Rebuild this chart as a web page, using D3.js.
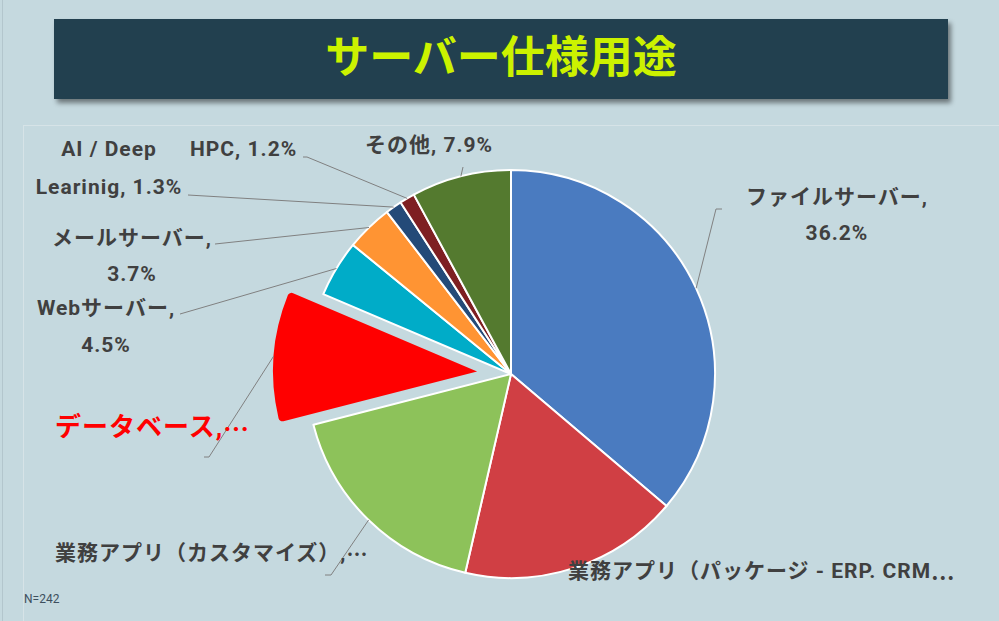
<!DOCTYPE html>
<html><head><meta charset="utf-8">
<script src="https://cdn.jsdelivr.net/npm/d3@7"></script>
<style>
html,body{margin:0;padding:0;background:#c5d9df;}
svg{display:block;}
</style></head>
<body>
<svg id="chart" width="999" height="621"></svg>
<script>
const title = "サーバー仕様用途";
const categories = ["ファイルサーバー","業務アプリ（パッケージ - ERP. CRM…","業務アプリ（カスタマイズ）","データベース","Webサーバー","メールサーバー","AI / Deep Learinig","HPC","その他"];
const values = [36.2, 17.4, 17.4, 10.4, 4.5, 3.7, 1.3, 1.2, 7.9];
const colors = ["#4a7bc0","#d03f44","#8dc25a","#ff0000","#00acc8","#ff9433","#244a78","#7e1f22","#547a2f"];
const labelLines = [
  [categories[0] + ",", values[0] + "%"],
  [categories[1]],
  [categories[2] + ",…"],
  [categories[3] + ",…"],
  [categories[4] + ",", values[4] + "%"],
  [categories[5] + ",", values[5] + "%"],
  ["AI / Deep", "Learinig, " + values[6] + "%"],
  [categories[7] + ", " + values[7] + "%"],
  [categories[8] + ", " + values[8] + "%"]
];
const note = "N=242";
const explodedIndex = 3;

// layout (positions only)
const labelPos = [
  {x:837, y:197, anchor:"middle", lh:36, lead:[722,209], stub:-6},
  {x:568, y:571, anchor:"start", lh:36, lead:null},
  {x:55,  y:553, anchor:"start", lh:36, lead:[325,575], stub:6},
  {x:55,  y:427, anchor:"start", lh:36, lead:[204,457], stub:5, big:true},
  {x:106, y:308, anchor:"middle", lh:37, lead:[180,314], stub:0},
  {x:132, y:238, anchor:"middle", lh:36, lead:[215,244], stub:0},
  {x:109, y:149, anchor:"middle", lh:38, lead:[188,195], stub:0},
  {x:190, y:149, anchor:"start", lh:36, lead:[303,157], stub:4},
  {x:365, y:145, anchor:"start", lh:36, lead:[463,167], stub:0}
];

const svg = d3.select("#chart");
const W = 999, H = 621;

// page frame & plot area
svg.append("rect").attr("x",0).attr("y",0).attr("width",W).attr("height",H).attr("fill","#c5d9df");
svg.append("line").attr("x1",2.5).attr("x2",2.5).attr("y1",0).attr("y2",H).attr("stroke","#b3c6cd").attr("stroke-width",1);
svg.append("rect").attr("x",23.5).attr("y",125.5).attr("width",990).attr("height",520)
  .attr("fill","none").attr("stroke","#d6e3e7").attr("stroke-width",1);

// title banner
const defs = svg.append("defs");
const f = defs.append("filter").attr("id","shadow").attr("x","-5%").attr("y","-20%").attr("width","110%").attr("height","150%");
f.append("feDropShadow").attr("dx",3).attr("dy",4).attr("stdDeviation",2.5).attr("flood-color","#000").attr("flood-opacity",0.45);
svg.append("rect").attr("x",54).attr("y",19).attr("width",894).attr("height",80)
  .attr("fill","#243f4f").attr("filter","url(#shadow)");
svg.append("text").attr("x",501).attr("y",54).attr("text-anchor","middle").attr("dominant-baseline","central")
  .attr("font-family","'Noto Sans CJK JP', sans-serif").attr("font-weight",700).attr("font-size",44)
  .attr("fill","#ccf200").text(title);

// pie
const cx = 511, cy = 374, R = 204, explode = 34;
const pie = d3.pie().sort(null).value(d => d).startAngle(0).endAngle(2*Math.PI);
const arcs = pie(values);
const arc = d3.arc().innerRadius(0).outerRadius(R);
const arcRounded = d3.arc().innerRadius(0).outerRadius(R).cornerRadius(4);
const g = svg.append("g").attr("transform",`translate(${cx},${cy})`);

function offsetOf(d, i){
  if(i !== explodedIndex) return [0,0];
  const a = (d.startAngle + d.endAngle)/2;
  return [explode*Math.sin(a), -explode*Math.cos(a)];
}

g.selectAll("path.slice").data(arcs).join("path")
  .attr("class","slice")
  .attr("d",(d,i)=> i===explodedIndex ? arcRounded(d) : arc(d))
  .attr("transform",(d,i)=>{const o=offsetOf(d,i);return `translate(${o[0]},${o[1]})`;})
  .attr("fill",(d,i)=>colors[i])
  .attr("stroke",(d,i)=> i===explodedIndex ? "none" : "#ffffff")
  .attr("stroke-width",2)
  .attr("stroke-linejoin","round");

// leader lines
arcs.forEach((d,i)=>{
  const p = labelPos[i];
  if(!p.lead) return;
  const a = (d.startAngle + d.endAngle)/2;
  const o = offsetOf(d,i);
  const ex = cx + o[0] + R*Math.sin(a), ey = cy + o[1] - R*Math.cos(a);
  const pts = [[p.lead[0], p.lead[1]]];
  if(p.stub) pts.push([p.lead[0]+p.stub, p.lead[1]]);
  pts.push([ex, ey]);
  svg.append("path").attr("d", d3.line()(pts)).attr("fill","none")
    .attr("stroke","#808080").attr("stroke-width",1);
});

// labels
labelLines.forEach((lines,i)=>{
  const p = labelPos[i];
  const t = svg.append("text")
    .attr("font-family","Roboto, 'Noto Sans CJK JP', sans-serif")
    .attr("font-weight",700)
    .attr("font-size", p.big ? 26 : 21)
    .attr("letter-spacing", 1)
    .attr("fill", p.big ? "#ff0000" : "#404040")
    .attr("text-anchor",p.anchor);
  lines.forEach((s,k)=>{
    const parts = s.split("…");
    const line = t.append("tspan").attr("x",p.x).attr("y",p.y + k*p.lh).attr("dominant-baseline","central");
    parts.forEach((part,j)=>{
      if(part) line.append("tspan").text(part);
      if(j < parts.length-1) line.append("tspan").attr("font-family","'Noto Sans CJK JP', sans-serif").text("…");
    });
  });
});

// note
svg.append("text").attr("x",24).attr("y",599).attr("dominant-baseline","central")
  .attr("font-family","Roboto, 'Noto Sans', sans-serif").attr("font-size",12).attr("fill","#3d4f5e").text(note);
</script>
</body></html>
